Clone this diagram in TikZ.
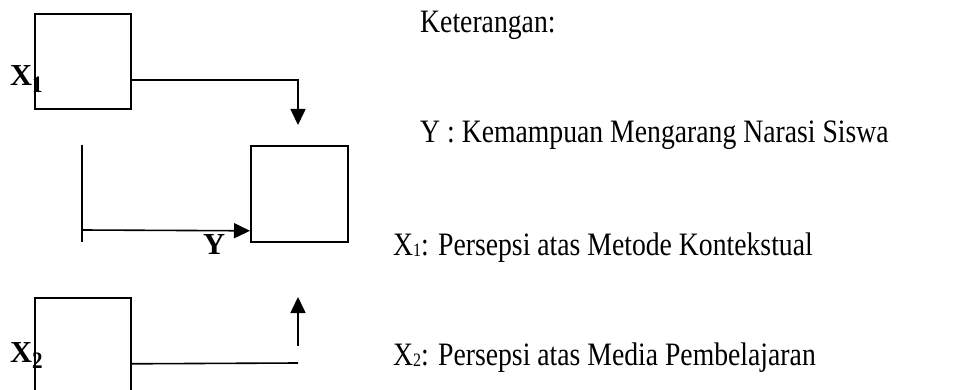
\documentclass[tikz,border=0pt]{standalone}
\usepackage{fontspec}
\setmainfont{Liberation Serif}
\usetikzlibrary{arrows.meta}
\tikzset{
  box/.style={draw, line width=1.6pt, minimum width=96pt, minimum height=95pt, inner sep=0pt, anchor=north west},
  conn/.style={line width=1.6pt},
  arr/.style={conn, -{Triangle[length=16pt,width=15pt]}},
  lbl/.style={font=\fontsize{27.7}{30}\selectfont, inner sep=0pt, anchor=base west},
  blbl/.style={font=\fontsize{30.5}{32}\selectfont\bfseries, inner sep=0pt, anchor=base west}
}
\newcommand{\tall}[1]{\scalebox{1}[1.18]{#1}}
\newcommand{\lsub}[1]{\raisebox{-1pt}{\fontsize{16}{16}\selectfont #1}}
\newcommand{\bsub}[2]{\raisebox{-#2}{\scalebox{1}[1.12]{\fontsize{21}{21}\selectfont #1}}}
\begin{document}
\begin{tikzpicture}[x=1pt,y=-1pt]
\useasboundingbox (0,0) rectangle (971,390);
\clip (0,0) rectangle (971,390);
% boxes
\node[box] (X1) at (34,13) {};
\node[box, minimum width=97pt, minimum height=96pt] (Y) at (250,145) {};
\node[box] (X2) at (34,297) {};
% free ends
\coordinate (t1) at (298,125);
\coordinate (c1) at (82,145);
\coordinate (c2) at (82,242);
\coordinate (c3) at (82,230);
\coordinate (e2) at (298,363);
\coordinate (s2) at (298,346);
\coordinate (t2) at (298,297);
% connectors
\draw[arr] ([yshift=-18.5pt]X1.east) -| (t1);
\draw[conn] (c1) -- (c2);
\draw[arr] (c3) -- ([yshift=-37pt]Y.west);
\draw[conn] ([yshift=-18.5pt]X2.east) -- (e2);
\draw[arr] (s2) -- (t2);
% labels
\node[blbl] (lx1) at (10,86) {X\bsub{1}{7pt}};
\node[blbl] (ly) at (203,254) {Y};
\node[blbl] (lx2) at (10,362) {X\bsub{2}{6pt}};
% legend
\node[lbl] (k) at (420,33) {\tall{Keterangan:}};
\node[lbl] (ky) at (420,143) {\tall{Y : Kemampuan Mengarang Narasi Siswa}};
\node[lbl] (kx1) at (393,255) {\tall{X\lsub{1}: Persepsi atas Metode Kontekstual}};
\node[lbl] (kx2) at (393,365) {\tall{X\lsub{2}: Persepsi atas Media Pembelajaran}};
\end{tikzpicture}
\end{document}
